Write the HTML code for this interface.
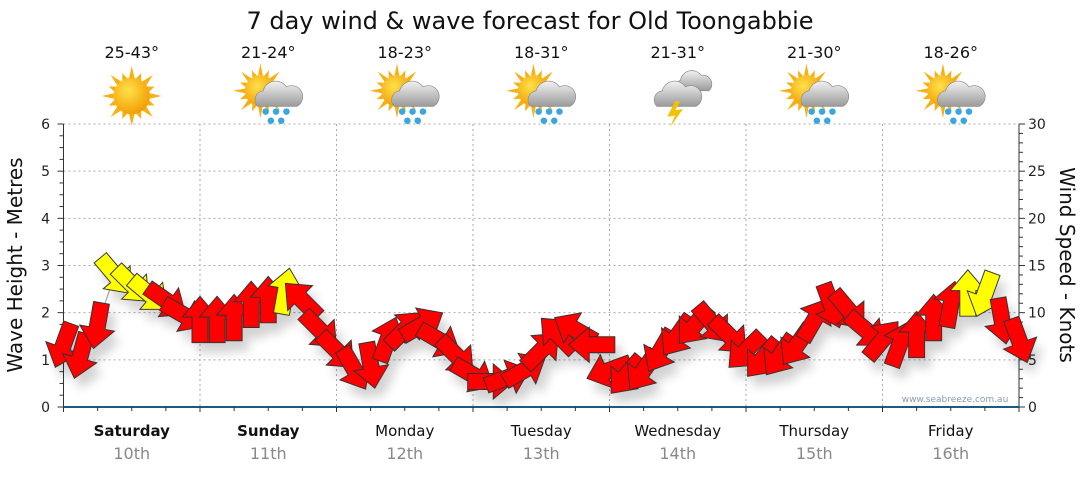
<!DOCTYPE html>
<html><head><meta charset="utf-8">
<style>
body{margin:0;background:#fff;width:1080px;height:475px;overflow:hidden;font-family:"Liberation Sans","DejaVu Sans",sans-serif}
text{font-family:"DejaVu Sans","Liberation Sans",sans-serif}
</style></head>
<body>
<svg id="chart" width="1080" height="475">
<defs>
<filter id="sh" x="-50%" y="-50%" width="200%" height="200%"><feGaussianBlur in="SourceAlpha" stdDeviation="5"/><feOffset dx="6" dy="10"/><feComponentTransfer><feFuncA type="linear" slope="0.18"/></feComponentTransfer><feMerge><feMergeNode/><feMergeNode in="SourceGraphic"/></feMerge></filter>
<radialGradient id="sunG" cx="0.4" cy="0.35" r="0.7"><stop offset="0" stop-color="#ffe14a"/><stop offset="1" stop-color="#f39a00"/></radialGradient>
<linearGradient id="cloudG" x1="0" y1="0" x2="0" y2="1"><stop offset="0" stop-color="#f2f2f2"/><stop offset="1" stop-color="#9a9a9a"/></linearGradient>
</defs>
<text x="530" y="29" text-anchor="middle" font-size="24" fill="#111">7 day wind &amp; wave forecast for Old Toongabbie</text>
<g id="grid"></g><g id="axes"></g><g id="icons"></g><g id="series"></g>
<text x="955" y="402" text-anchor="middle" font-size="9" fill="#8a9ab0">www.seabreeze.com.au</text>
<text transform="translate(22,265) rotate(-90)" text-anchor="middle" font-size="20" fill="#111">Wave Height - Metres</text>
<text transform="translate(1060,265) rotate(90)" text-anchor="middle" font-size="20" fill="#111">Wind Speed - Knots</text>
</svg>
<script>
const days=["Saturday","Sunday","Monday","Tuesday","Wednesday","Thursday","Friday"];
const dates=["10th","11th","12th","13th","14th","15th","16th"];
const temps=["25-43°","21-24°","18-23°","18-31°","21-31°","21-30°","18-26°"];
const weather=["sun","rain","rain","cloud","storm","rain","rain"];
const waveTicks=[0,1,2,3,4,5,6];
const windTicks=[0,5,10,15,20,25,30];
const windSpeed=[6.6,5.5,8.7,14,13,12,11.3,9.8, 9.2,9.2,9.4,10.8,11.3,12.2,11.3,8.2, 6,4.1,4.5,7.1,8.2,8.7,7.1,5.5, 3.4,2.7,3.1,3.9,6,7.6,8.2,6.6, 3.9,3.4,3.9,6,7.6,8.7,8.9,7.6, 6,5.2,5.5,6.6,9.2,10.8,10.3,8.2, 7.1,6.6,7.6,9.4,10.8,12,12,9.2,7.1];
const windDir=[200,195,190,140,135,130,125,120, 0,0,0,0,0,10,315,135, 135,150,170,20,45,60,120,135, 120,90,70,60,45,315,300,270, 250,220,215,210,215,220,140,135, 225,220,215,215,30,160,140,130, 40,20,0,0,10,0,200,170,160];
const X0=63.5,X1=1019,Y0=407,Y1=124,dayW=(X1-X0)/7;
const xAt=i=>X0+i*(X1-X0)/56;
const yWave=v=>Y0-(v/6)*(Y0-Y1);
const yWind=v=>Y0-(v/30)*(Y0-Y1);
const NS="http://www.w3.org/2000/svg";
function mk(t,a,p){const e=document.createElementNS(NS,t);for(const k in a)e.setAttribute(k,a[k]);p.appendChild(e);return e;}
const grid=document.getElementById('grid'),axes=document.getElementById('axes'),icons=document.getElementById('icons'),series=document.getElementById('series');
waveTicks.forEach(v=>{if(v>0){const l=mk('line',{x1:X0,x2:X1,y1:yWave(v),y2:yWave(v),stroke:'#aaa','stroke-dasharray':'2,3'},grid);}
 const t=mk('text',{x:50,y:yWave(v)+5,'text-anchor':'end','font-size':14,fill:'#222'},axes);t.textContent=v;
 });
windTicks.forEach(v=>{const t=mk('text',{x:1028,y:yWind(v)+5,'font-size':14,fill:'#222'},axes);t.textContent=v;
 });
for(let k=0;k<=24;k++){const y=Y0-k*(Y0-Y1)/24;mk('line',{x1:X0-(k%4==0?6:4),x2:X0,y1:y,y2:y,stroke:'#333'},axes);}
for(let k=0;k<=30;k++){const y=yWind(k);mk('line',{x1:X1,x2:X1+(k%5==0?6:4),y1:y,y2:y,stroke:'#333'},axes);}
mk('line',{x1:X0,x2:X0,y1:Y1,y2:Y0,stroke:'#333'},axes);
mk('line',{x1:X1,x2:X1,y1:Y1,y2:Y0,stroke:'#333'},axes);
const xa=mk('line',{x1:X0,x2:X1,y1:Y0,y2:Y0,stroke:'#1c5a82','stroke-width':2},axes);

for(let k=0;k<=28;k++){const x=X0+k*dayW/4;mk('line',{x1:x,x2:x,y1:Y0,y2:Y0+(k%4==0?5:4),stroke:'#333'},axes);}
days.forEach((d,i)=>{const cx=X0+(i+0.5)*dayW;
 if(i>0){const l=mk('line',{x1:X0+i*dayW,x2:X0+i*dayW,y1:Y1,y2:Y0,stroke:'#aaa','stroke-dasharray':'2,3'},grid);}
 const t=mk('text',{x:cx,y:436,'text-anchor':'middle','font-size':15,fill:'#111','font-weight':i<2?'bold':'normal'},axes);t.textContent=d;
 
 const t2=mk('text',{x:cx,y:459,'text-anchor':'middle','font-size':16,fill:'#888'},axes);t2.textContent=dates[i];
 
 const t3=mk('text',{x:cx,y:58,'text-anchor':'middle','font-size':16,fill:'#111'},icons);t3.textContent=temps[i];
 
 const g=mk('g',{transform:`translate(${cx},96) scale(1.3)`},icons);
 
 const w=weather[i];
 if(w!=='storm'){const sx=w==='sun'?0:-6,sy=w==='sun'?0:-4,r=w==='sun'?14:12;
  for(let a=0;a<16;a++){const an=a*Math.PI/8,L=a%2?r+5:r+9;mk('polygon',{points:`${sx+Math.cos(an-0.15)*r},${sy+Math.sin(an-0.15)*r} ${sx+Math.cos(an)*L},${sy+Math.sin(an)*L} ${sx+Math.cos(an+0.15)*r},${sy+Math.sin(an+0.15)*r}`,fill:'#f6b012'},g);}
  mk('circle',{cx:sx,cy:sy,r:r,fill:'url(#sunG)'},g);}
 if(w!=='sun'){const ox=w==='storm'?-4:4;
  if(w==='storm')mk('path',{d:`M${ox+6},-12 a9,9 0 0 1 16,-4 a7,7 0 0 1 6,12 h-26 a6,6 0 0 1 4,-8z`,fill:'url(#cloudG)',stroke:'#888','stroke-width':0.5},g);
  mk('path',{d:`M${ox-12},8 a7,7 0 0 1 4,-12 a10,10 0 0 1 18,-3 a8,8 0 0 1 8,15z`,fill:'url(#cloudG)',stroke:'#888','stroke-width':0.5},g);
  if(w==='rain'||w==='cloud'){[[-6,12],[2,12],[10,12],[-2,19],[6,19]].forEach(p=>mk('circle',{cx:ox+p[0],cy:p[1],r:2.5,fill:'#3aa6e0'},g));}
  if(w==='storm'){mk('polygon',{points:`${ox+2},4 ${ox-4},16 ${ox+2},15 ${ox-2},24 ${ox+8},10 ${ox+2},11 ${ox+6},4`,fill:'#f5c000'},g);}
 }
});
let d='';windSpeed.forEach((v,i)=>{d+=(i?'L':'M')+xAt(i)+','+yWind(v);});
const pl=mk('path',{d:d,fill:'none',stroke:'#999','stroke-width':1},series);

const ag=mk('g',{filter:'url(#sh)'},series);
windSpeed.forEach((v,i)=>{
 const a=mk('polygon',{points:'-5,14 -5,-2 -11,-2 0,-15 11,-2 5,-2 5,14',fill:v>=11.8?'#ffff00':'#ff0000',stroke:'#333','stroke-width':0.6,
  transform:`translate(${xAt(i)},${yWind(v)}) rotate(${windDir[i]}) scale(1.6)`},ag);
 
});
</script>
</body></html>
